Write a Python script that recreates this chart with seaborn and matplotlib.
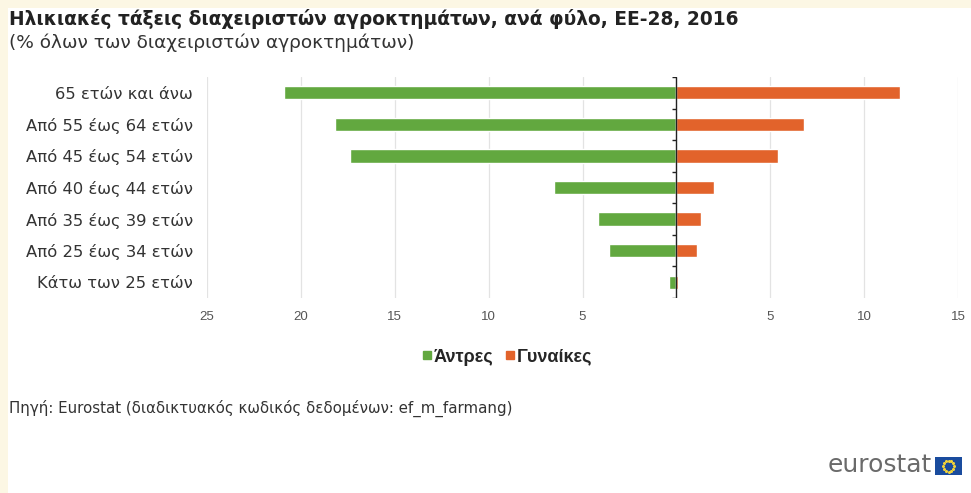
import numpy as np
import pandas as pd
import matplotlib
matplotlib.use("Agg")
import matplotlib.pyplot as plt
import seaborn as sns
from matplotlib.patches import Rectangle

# ---- data ----
categories = ["65 ετών και άνω", "Από 55 έως 64 ετών", "Από 45 έως 54 ετών",
              "Από 40 έως 44 ετών", "Από 35 έως 39 ετών", "Από 25 έως 34 ετών",
              "Κάτω των 25 ετών"]
men = [20.9, 18.2, 17.4, 6.5, 4.2, 3.6, 0.4]
women = [11.9, 6.8, 5.4, 2.0, 1.3, 1.1, 0.1]
series_names = ["Άντρες", "Γυναίκες"]
xticks = [-25, -20, -15, -10, -5, 5, 10, 15]
xtick_labels = ["25", "20", "15", "10", "5", "5", "10", "15"]

title = "Ηλικιακές τάξεις διαχειριστών αγροκτημάτων, ανά φύλο, ΕΕ-28, 2016"
subtitle = "(% όλων των διαχειριστών αγροκτημάτων)"
source = "Πηγή: Eurostat (διαδικτυακός κωδικός δεδομένων: ef_m_farmang)"

GREEN = "#62a83f"
ORANGE = "#e2632b"

df = pd.DataFrame({
    "age": categories * 2,
    "sex": [series_names[0]] * len(categories) + [series_names[1]] * len(categories),
    "value": [-v for v in men] + list(women),
})

sns.set_theme(style="white")
plt.rcParams["font.family"] = ["DejaVu Sans"]
NARROW = ["Liberation Sans Narrow", "Liberation Sans", "DejaVu Sans"]

fig = plt.figure(figsize=(9.71, 4.93), dpi=100)
fig.patch.set_facecolor("white")
# cream border strips
fig.add_artist(Rectangle((0, 0), 8 / 971, 1, transform=fig.transFigure,
                         facecolor="#fcf7e4", edgecolor="none", zorder=0))
fig.add_artist(Rectangle((0, 1 - 8 / 493), 1, 8 / 493, transform=fig.transFigure,
                         facecolor="#fcf7e4", edgecolor="none", zorder=0))

ax = fig.add_axes([207 / 971, 1 - 298 / 493, (958 - 207) / 971, (298 - 77) / 493])
sns.barplot(data=df, y="age", x="value", hue="sex", dodge=False,
            palette=[GREEN, ORANGE], width=0.42, order=categories,
            hue_order=series_names, ax=ax, legend=False, saturation=1)

ax.set_xlim(-25, 15)
ax.set_ylim(len(categories) - 0.5, -0.5)
ax.set_xticks(xticks)
ax.set_xticklabels(xtick_labels, color="#555555", fontsize=9.5, family=NARROW)
ax.tick_params(axis="x", length=0, pad=9)
ax.tick_params(axis="y", length=0, pad=10, labelsize=11.8, labelcolor="#333333")
ax.set_xlabel("")
ax.set_ylabel("")
for s in ax.spines.values():
    s.set_visible(False)
ax.grid(axis="x", color="#e3e3e3", linewidth=0.9)
ax.set_axisbelow(True)

# zero axis with small ticks on the category boundaries
ax.axvline(0, color="#222222", linewidth=1.0, zorder=3)
bounds = np.arange(len(categories) + 1) - 0.5
ax.hlines(bounds, -0.25, 0, color="#222222", linewidth=1.0, zorder=3)

# titles
fig.text(9 / 971, 1 - 19 / 493, title, fontsize=13.4, fontweight="bold",
         color="#222222", va="center", ha="left")
fig.text(9 / 971, 1 - 43 / 493, subtitle, fontsize=13.3, color="#333333",
         va="center", ha="left")

# legend
handles = [plt.Line2D([], [], marker="s", linestyle="none", markersize=6,
                      color=c) for c in (GREEN, ORANGE)]
fig.legend(handles, series_names, loc="center", bbox_to_anchor=(507 / 971, 1 - 357 / 493),
           ncol=2, frameon=False, handletextpad=0.1, columnspacing=0.6,
           handlelength=0.6,
           prop={"family": NARROW, "weight": "bold", "size": 13})

# source
fig.text(9 / 971, 1 - 408 / 493, source, fontsize=10.8, color="#333333",
         va="center", ha="left")

# eurostat logo
fig.text(932 / 971, 1 - 465 / 493, "eurostat", fontsize=18, color="#6a6a6a",
         va="center", ha="right")
fig.add_artist(Rectangle((935 / 971, 1 - 475 / 493), 27 / 971, 18 / 493,
                         transform=fig.transFigure, facecolor="#1a4c9e",
                         edgecolor="none"))
ang = np.linspace(0, 2 * np.pi, 12, endpoint=False)
cx, cy = 948.5 / 971, 1 - 466 / 493
fig.add_artist(plt.Line2D(cx + 5.5 / 971 * np.cos(ang), cy + 5.5 / 493 * np.sin(ang),
                          transform=fig.transFigure, marker="o", markersize=1.2,
                          linestyle="none", color="#f2d33a"))

fig.savefig("out.png", dpi=100, facecolor=fig.get_facecolor())
